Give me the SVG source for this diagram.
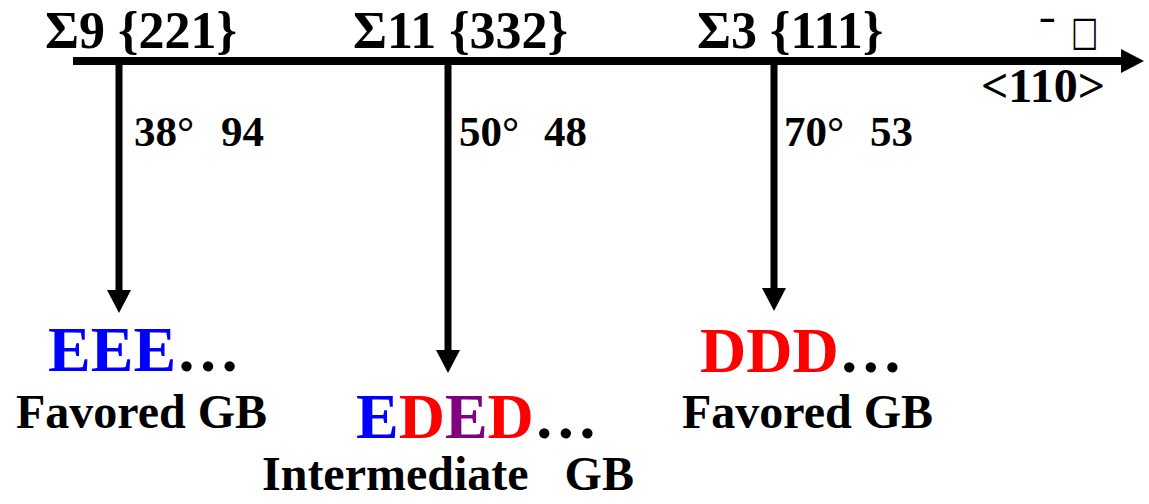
<svg xmlns="http://www.w3.org/2000/svg" width="1149" height="504" viewBox="0 0 1149 504">
<style>
text{font-family:"Liberation Serif","Times New Roman",serif;font-weight:bold;fill:#000}
.h{font-size:52px}
.a{font-size:43px}
.seq{font-size:64px}
.lbl{font-size:48px}
.b{fill:#0000ff}.r{fill:#ff0000}.p{fill:#800080}
.ln{stroke:#000}
</style>
<defs>
<marker id="ah" markerUnits="userSpaceOnUse" markerWidth="24" markerHeight="26" refX="0" refY="12" orient="auto" viewBox="0 0 24 24"><polygon points="0,0 23,12 0,24" fill="#000"/></marker>
</defs>
<g id="connectors">
<line class="ln" x1="73" y1="61" x2="1121" y2="61" stroke-width="8" marker-end="url(#ah)"/>
<line class="ln" x1="119" y1="61" x2="119" y2="290" stroke-width="7" marker-end="url(#ah)"/>
<line class="ln" x1="448" y1="61" x2="448" y2="350" stroke-width="7" marker-end="url(#ah)"/>
<line class="ln" x1="774" y1="61" x2="774" y2="288" stroke-width="7" marker-end="url(#ah)"/>
</g>
<g id="sigma9">
<text class="h" x="45" y="48">Σ9 {221}</text>
<text class="a" x="134" y="146">38°</text>
<text class="a" x="221" y="146">94</text>
</g>
<g id="sigma11">
<text class="h" x="353" y="48">Σ11 {332}</text>
<text class="a" x="459" y="146">50°</text>
<text class="a" x="544" y="146">48</text>
</g>
<g id="sigma3">
<text class="h" x="697" y="48">Σ3 {111}</text>
<text class="a" x="784" y="146">70°</text>
<text class="a" x="870" y="146">53</text>
</g>
<g id="axis-label">
<text x="1040" y="46" style="font-size:44px">ˉ</text>
<text transform="translate(1071,45) scale(0.85,1.2)" style="font-size:34px;font-family:'DejaVu Sans',sans-serif;font-weight:normal">□</text>
<text style="font-size:48px" x="981" y="102">&lt;110&gt;</text>
</g>
<g id="eee">
<text class="seq" x="48" y="371"><tspan class="b">EEE</tspan>…</text>
<text class="lbl" x="16" y="428">Favored GB</text>
</g>
<g id="eded">
<text class="seq" x="356" y="438"><tspan class="b">E</tspan><tspan class="r">D</tspan><tspan class="p">E</tspan><tspan class="r">D</tspan>…</text>
<text class="lbl" x="262" y="490" xml:space="preserve">Intermediate   GB</text>
</g>
<g id="ddd">
<text class="seq" x="700" y="372"><tspan class="r">DDD</tspan>…</text>
<text class="lbl" x="682" y="428">Favored GB</text>
</g>
</svg>
